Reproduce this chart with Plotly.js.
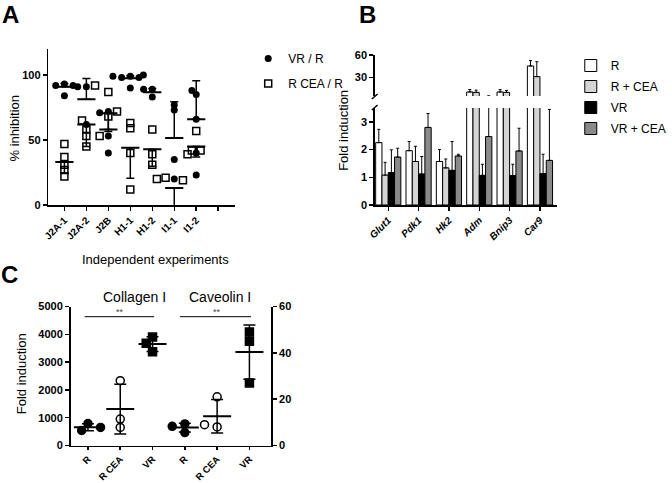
<!DOCTYPE html>
<html><head><meta charset="utf-8">
<script src="https://cdn.plot.ly/plotly-3.0.1.min.js"></script>
<style>html,body{margin:0;padding:0;background:#fff}#chart{width:672px;height:483px}</style>
</head><body><div id="chart"></div>
<script>
// ---------- Panel A data ----------
const expLabels = ['J2A-1','J2A-2','J2B','H1-1','H1-2','I1-1','I1-2'];
const vrR   = [[93,92,92,93,84],[91,91,62],[72,71,53,40],[99,98,98,99,100,90],[89,89,83],[73,77,35,20],[85,88,66,40,23]];
const rCeaR = [[47,37,22,27,31],[92,65,58,53,45],[87,72,68,53],[59,63,40,12],[58,39,31],[21,19,20],[57,42,42,39]];
const vrRMean   = [91,81.3,58,97.5,86.7,51.5,66];
const vrRSd     = [2.5,16,13,2,3,28,29.5];
const rCeaRMean = [33,62,70.5,44,42.8,13,45];
const rCeaRSd   = [8.5,17,14,23.5,13,15,8];

// ---------- Panel B data ----------
const genes = ['Glut1','Pdk1','Hk2','Adm','Bnip3','Car9'];
const seriesB = ['R','R + CEA','VR','VR + CEA'];
const bR       = [2.25,1.96,1.57,10.4,10.4,45.3];
const bRErr    = [0.48,0.33,0.43,3.2,3.1,7.1];
const bRCea    = [1.08,1.57,1.34,9.8,9.8,31];
const bRCeaErr = [0.46,0.55,0.32,3.0,2.7,20];
const bVR      = [1.17,1.12,1.25,1.07,1.06,1.13];
const bVRErr   = [0.82,0.63,1.04,0.40,0.41,0.70];
const bVRCea   = [1.73,2.8,1.77,2.47,1.95,1.61];
const bVRCeaErr= [0.32,0.5,0.06,2.83,0.82,1.84];

// ---------- Panel C data ----------
const cLabels = ['R','R CEA','VR','R','R CEA','VR'];
const collagenR    = [790,540,650];
const collagenRCea = [2330,650,950];
const collagenVR   = [3900,3680,3370];
const caveolinR    = [9.3,5.6,8.3];
const caveolinRCea = [21,8,9];
const caveolinVR   = [49,45,27];

// ---------- geometry helpers ----------
const W = 672, H = 483;
const px = v => v / W;
const py = v => 1 - v / H;
const FONT = 'Liberation Sans, Arial, sans-serif';

// simple beeswarm: returns x offsets (data units) for a list of values in one column
function swarm(vals, pxPerX, pxPerY, step, thr) {
  const placed = [];
  const offs = [];
  const order = [0,-1,1,-2,2,-3,3,-4,4];
  vals.forEach(v => {
    const yy = v * pxPerY;
    let chosen = 0;
    for (const k of order) {
      const xx = k * step;
      const hit = placed.some(p => (p.x - xx) ** 2 + (p.y - yy) ** 2 < thr ** 2);
      if (!hit) { chosen = xx; break; }
    }
    placed.push({x: chosen, y: yy});
    offs.push(chosen / pxPerX);
  });
  return offs;
}
const mean = a => a.reduce((s, v) => s + v, 0) / a.length;
const sd = a => { const m = mean(a); return Math.sqrt(a.reduce((s, v) => s + (v - m) ** 2, 0) / (a.length - 1)); };

const traces = [];

// ---------- Panel A traces ----------
const aPxX = 22.76, aPxY = 1.3;
const vrX = [], vrY = [], ceaX = [], ceaY = [];
expLabels.forEach((lab, i) => {
  const all = vrR[i].concat(rCeaR[i]);
  const offs = swarm(all, aPxX, aPxY, 4.5, 5);
  vrR[i].forEach((v, j) => { vrX.push(i + offs[j]); vrY.push(v); });
  rCeaR[i].forEach((v, j) => { ceaX.push(i + offs[vrR[i].length + j]); ceaY.push(v); });
});
const catIdx = expLabels.map((_, i) => i);
traces.push({type:'scatter', mode:'markers', x: catIdx, y: vrRMean, xaxis:'x', yaxis:'y', showlegend:false,
  marker:{symbol:'line-ew', size:13, line:{width:2, color:'black'}},
  error_y:{type:'data', symmetric:false, array: vrRSd, arrayminus: vrRSd.map(() => 0), color:'black', thickness:1.5, width:4}, hoverinfo:'skip'});
traces.push({type:'scatter', mode:'markers', x: catIdx, y: rCeaRMean, xaxis:'x', yaxis:'y', showlegend:false,
  marker:{symbol:'line-ew', size:13, line:{width:2, color:'black'}},
  error_y:{type:'data', symmetric:false, array: rCeaRSd.map(() => 0), arrayminus: rCeaRSd, color:'black', thickness:1.5, width:4}, hoverinfo:'skip'});
traces.push({type:'scatter', mode:'markers', x: vrX, y: vrY, xaxis:'x', yaxis:'y', name:'VR / R', legend:'legend', legendgroup:'a1',
  cliponaxis:false, marker:{symbol:'circle', size:7, color:'black'}});
traces.push({type:'scatter', mode:'markers', x: ceaX, y: ceaY, xaxis:'x', yaxis:'y', name:'R CEA / R', legend:'legend', legendgroup:'a2',
  cliponaxis:false, marker:{symbol:'square-open', size:7, color:'black', line:{width:1.5, color:'black'}}});

// ---------- Panel B traces ----------
const gIdx = genes.map((_, i) => i);
const bVals = [bR, bRCea, bVR, bVRCea];
const bErrs = [bRErr, bRCeaErr, bVRErr, bVRCeaErr];
const bColors = ['#ffffff', '#d4d4d4', '#000000', '#8a8a8a'];
[['x2','y2',true],['x3','y3',false]].forEach(([xa, ya, leg]) => {
  seriesB.forEach((name, s) => {
    traces.push({type:'bar', x: gIdx, y: bVals[s], xaxis: xa, yaxis: ya, name: name,
      legend:'legend2', legendgroup:'b'+s, showlegend: leg,
      marker:{color: bColors[s], line:{color:'black', width:1}},
      error_y:{type:'data', symmetric:false, array: bErrs[s], arrayminus: bErrs[s].map(() => 0), color:'black', thickness:1, width:1.5},
      hoverinfo:'skip'});
  });
});

// ---------- Panel C traces ----------
const cPxX = 33.3, cPxY4 = 138.9 / 5000, cPxY5 = 138.9 / 60;
const cGroups = [
  {vals: collagenR, idx:0, ya:'y4', py: cPxY4, sym:'circle'},
  {vals: collagenRCea, idx:1, ya:'y4', py: cPxY4, sym:'circle-open'},
  {vals: collagenVR, idx:2, ya:'y4', py: cPxY4, sym:'square'},
  {vals: caveolinR, idx:3, ya:'y5', py: cPxY5, sym:'circle'},
  {vals: caveolinRCea, idx:4, ya:'y5', py: cPxY5, sym:'circle-open'},
  {vals: caveolinVR, idx:5, ya:'y5', py: cPxY5, sym:'square'}
];
cGroups.forEach(g => {
  const m = mean(g.vals), s = sd(g.vals);
  traces.push({type:'scatter', mode:'markers', x:[g.idx], y:[m], xaxis:'x4', yaxis:g.ya, showlegend:false,
    marker:{symbol:'line-ew', size:20, line:{width:2, color:'black'}},
    error_y:{type:'data', array:[s], color:'black', thickness:1.5, width:6}, hoverinfo:'skip'});
  const offs = swarm(g.vals, cPxX, g.py, 6.5, 8);
  traces.push({type:'scatter', mode:'markers', x: g.vals.map((_, j) => g.idx + offs[j]), y: g.vals,
    xaxis:'x4', yaxis:g.ya, showlegend:false, cliponaxis:false,
    marker:{symbol:g.sym, size:8, color:'black', line:{width:1.5, color:'black'}}, hoverinfo:'skip'});
});

// ---------- layout ----------
const axBase = {showline:true, linewidth:1.5, linecolor:'black', ticks:'outside', ticklen:4, tickwidth:1.5,
  tickcolor:'black', showgrid:false, zeroline:false, tickfont:{size:11, weight:'bold', color:'black'}, fixedrange:true};
const xTick = {size:10, weight:'bold', color:'black'};
const ann = (text, x, y, size, extra) => Object.assign({text, xref:'paper', yref:'paper', x:px(x), y:py(y),
  xanchor:'center', yanchor:'middle', showarrow:false, font:{size}}, extra || {});

const layout = {
  width: W, height: H, margin:{l:0, r:0, t:0, b:0}, paper_bgcolor:'white', plot_bgcolor:'rgba(0,0,0,0)',
  font:{family: FONT, color:'black'},
  barmode:'group', bargap:0.17, bargroupgap:0,
  xaxis: Object.assign({}, axBase, {domain:[px(50), px(243)], range:[-0.733, 7.75], anchor:'y',
    tickvals:[0,1,2,3,4,5,6,7], ticktext: expLabels.concat(['']), tickangle:-45, tickfont:xTick}),
  yaxis: Object.assign({}, axBase, {domain:[py(205), py(49)], range:[0,120], anchor:'x', tickvals:[0,50,100]}),
  xaxis2: Object.assign({}, axBase, {domain:[px(388), px(577)], range:[-0.446, 5.57], anchor:'y2',
    tickvals: gIdx, ticktext: genes, tickangle:-45, tickfont:{size:10, weight:'bold', style:'italic', color:'black'}}),
  yaxis2: Object.assign({}, axBase, {domain:[py(205), py(108)], range:[0,3.5], anchor:'x2', tickvals:[0,1,2,3]}),
  xaxis3: {domain:[px(388), px(577)], range:[-0.446, 5.57], anchor:'y3', visible:false, fixedrange:true},
  yaxis3: Object.assign({}, axBase, {domain:[py(96), py(55)], range:[5,60], anchor:'x3', tickvals:[30,60]}),
  xaxis4: Object.assign({}, axBase, {domain:[px(73), px(281)], range:[-0.54, 5.68], anchor:'y4',
    tickvals:[0,1,2,3,4,5], ticktext: cLabels, tickangle:-45, ticklen:3, tickfont:{size:9.5, weight:'bold', color:'black'}}),
  yaxis4: Object.assign({}, axBase, {domain:[py(445.5), py(306.5)], range:[0,5000], anchor:'x4', tickvals:[0,1000,2000,3000,4000,5000]}),
  yaxis5: Object.assign({}, axBase, {overlaying:'y4', side:'right', range:[0,60], anchor:'x4', tickvals:[0,20,40,60]}),
  legend: {x: px(257), y: py(44), xanchor:'left', yanchor:'top', font:{size:12, family: FONT}, tracegroupgap:6, bgcolor:'rgba(0,0,0,0)', itemwidth:30},
  legend2: {x: px(591), y: py(51), xanchor:'left', yanchor:'top', font:{size:12, family: FONT}, tracegroupgap:2, bgcolor:'rgba(0,0,0,0)', itemwidth:30},
  shapes: [
    {type:'line', xref:'paper', yref:'paper', x0:px(385), x1:px(391), y0:py(99), y1:py(94), line:{color:'black', width:1.5}},
    {type:'line', xref:'paper', yref:'paper', x0:px(385), x1:px(391), y0:py(110), y1:py(105), line:{color:'black', width:1.5}},
    {type:'line', xref:'x4', yref:'paper', x0:-0.1, x1:2.05, y0:py(316.7), y1:py(316.7), line:{color:'black', width:1}},
    {type:'line', xref:'x4', yref:'paper', x0:2.85, x1:5.05, y0:py(316.7), y1:py(316.7), line:{color:'black', width:1}}
  ],
  annotations: [
    ann('<b>A</b>', 11, 14, 24),
    ann('<b>B</b>', 381, 14, 24),
    ann('<b>C</b>', 10, 274, 24),
    ann('% inhibition', 15, 128, 13, {textangle:-90}),
    ann('Independent experiments', 161, 259, 13),
    ann('Fold induction', 355, 130, 13, {textangle:-90}),
    ann('Fold induction', 22, 374, 13, {textangle:-90}),
    {text:'Collagen I', xref:'x4', yref:'paper', x:1.45, y:py(297), xanchor:'center', yanchor:'middle', showarrow:false, font:{size:14}},
    {text:'Caveolin I', xref:'x4', yref:'paper', x:4.1, y:py(297), xanchor:'center', yanchor:'middle', showarrow:false, font:{size:14}},
    {text:'**', xref:'x4', yref:'paper', x:1, y:py(311.5), xanchor:'center', yanchor:'middle', showarrow:false, font:{size:9, color:'#444'}},
    {text:'**', xref:'x4', yref:'paper', x:4, y:py(311.5), xanchor:'center', yanchor:'middle', showarrow:false, font:{size:9, color:'#444'}}
  ]
};

Plotly.newPlot('chart', traces, layout, {staticPlot:true, displayModeBar:false});
</script>
</body></html>
